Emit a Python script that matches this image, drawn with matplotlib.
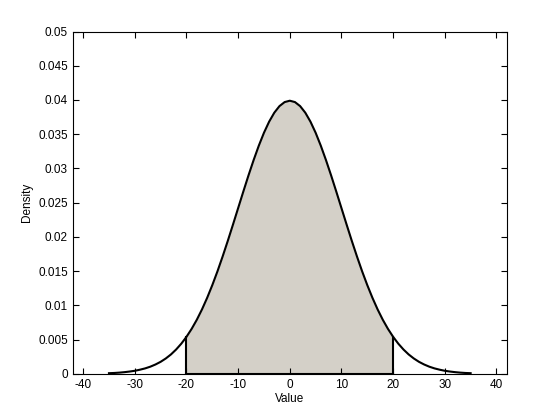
import numpy as np
import matplotlib
matplotlib.use('Agg')
import matplotlib.pyplot as plt

# density, one value per unit from -35 to 35
x_vals = list(range(-35, 36))
density = [0.00009, 0.00012, 0.00017, 0.00024, 0.00033, 0.00044, 0.00060, 0.00079, 0.00104,
           0.00136, 0.00175, 0.00224, 0.00283, 0.00355, 0.00440, 0.00540, 0.00656, 0.00789,
           0.00940, 0.01109, 0.01295, 0.01497, 0.01714, 0.01942, 0.02179, 0.02420, 0.02661,
           0.02897, 0.03122, 0.03332, 0.03521, 0.03683, 0.03814, 0.03910, 0.03969,
           0.03989,
           0.03969, 0.03910, 0.03814, 0.03683, 0.03521, 0.03332, 0.03122, 0.02897, 0.02661,
           0.02420, 0.02179, 0.01942, 0.01714, 0.01497, 0.01295, 0.01109, 0.00940, 0.00789,
           0.00656, 0.00540, 0.00440, 0.00355, 0.00283, 0.00224, 0.00175, 0.00136, 0.00104,
           0.00079, 0.00060, 0.00044, 0.00033, 0.00024, 0.00017, 0.00012, 0.00009]
shade_lo, shade_hi = -20, 20
y_ticks = [0, 0.005, 0.01, 0.015, 0.02, 0.025, 0.03, 0.035, 0.04, 0.045, 0.05]
y_labels = ['0', '0.005', '0.01', '0.015', '0.02', '0.025', '0.03', '0.035', '0.04', '0.045', '0.05']
x_ticks = [-40, -30, -20, -10, 0, 10, 20, 30, 40]

plt.rcParams['font.family'] = ['Liberation Sans', 'DejaVu Sans']
plt.rcParams['font.size'] = 8
plt.rcParams['axes.unicode_minus'] = False

x = np.array(x_vals)
y = np.array(density)

fig = plt.figure(figsize=(5.6, 4.2), dpi=100)
ax = fig.add_axes([0.13, 0.11, 0.775, 0.815])

mask = (x >= shade_lo) & (x <= shade_hi)
ax.fill_between(x[mask], 0, y[mask], color='#d4d0c8', linewidth=0)
ax.plot(x, y, color='black', linewidth=1.5)
for xv in (shade_lo, shade_hi):
    yv = y[x == xv][0]
    ax.plot([xv, xv], [0, yv], color='black', linewidth=1.5)
ax.plot([shade_lo, shade_hi], [0, 0], color='black', linewidth=1.5)

ax.set_xlim(-42, 42)
ax.set_ylim(0, 0.05)
ax.set_xticks(x_ticks)
ax.set_yticks(y_ticks)
ax.set_yticklabels(y_labels)
ax.tick_params(direction='in', top=True, right=True, length=4, width=0.8, labelsize=8.5)
for s in ax.spines.values():
    s.set_linewidth(0.8)
ax.set_xlabel('Value', labelpad=2, fontsize=8.5)
ax.set_ylabel('Density', labelpad=4, fontsize=8.5)

fig.savefig('out.png', dpi=100)
